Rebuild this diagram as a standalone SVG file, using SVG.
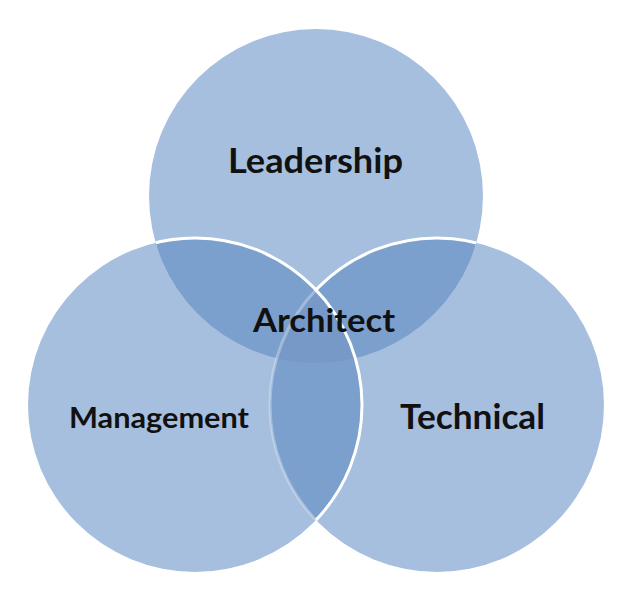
<svg xmlns="http://www.w3.org/2000/svg" width="632" height="599" viewBox="0 0 632 599">
<style>
.c{fill:#a7bfdf}
.d{fill:#7ca0cd}
.t{fill:#7699c8}
.lbl{font-family:Lato,"Open Sans","Liberation Sans",sans-serif;font-weight:700;fill:#111;text-anchor:middle}
.edge{fill:none;stroke:#fff;stroke-width:3}
</style>
<defs>
<clipPath id="cT"><circle cx="316" cy="196" r="167"/></clipPath>
<clipPath id="cR"><circle cx="437" cy="405" r="167"/></clipPath>
<clipPath id="cTR" clip-path="url(#cR)"><circle cx="316" cy="196" r="167"/></clipPath>
<clipPath id="cTorR"><circle cx="316" cy="196" r="167"/><circle cx="437" cy="405" r="167"/></clipPath>
<mask id="mR" maskUnits="userSpaceOnUse" x="0" y="0" width="632" height="599">
<circle cx="316" cy="196" r="167" fill="#fff"/>
<circle cx="195" cy="405" r="167" fill="#4d4d4d"/>
</mask>
</defs>
<rect width="632" height="599" fill="#fff"/>
<g id="node-leadership">
<circle class="c" cx="316" cy="196" r="167"/>
</g>
<g id="node-management">
<circle class="c" cx="195" cy="405" r="167"/>
</g>
<g id="node-technical">
<circle class="c" cx="437" cy="405" r="167"/>
</g>
<g id="overlaps">
<circle class="d" cx="195" cy="405" r="167" clip-path="url(#cT)"/>
<circle class="d" cx="437" cy="405" r="167" clip-path="url(#cT)"/>
<circle class="d" cx="195" cy="405" r="167" clip-path="url(#cR)"/>
<circle class="t" cx="195" cy="405" r="167" clip-path="url(#cTR)"/>
</g>
<g id="outlines">
<circle class="edge" cx="437" cy="405" r="167" mask="url(#mR)"/>
<circle class="edge" cx="195" cy="405" r="167" clip-path="url(#cTorR)"/>
</g>
<g id="labels">
<text id="label-leadership" class="lbl" x="315.5" y="173" font-size="34" textLength="175" lengthAdjust="spacingAndGlyphs">Leadership</text>
<text id="label-architect" class="lbl" x="324" y="332" font-size="33" textLength="142" lengthAdjust="spacingAndGlyphs">Architect</text>
<text id="label-management" class="lbl" x="159" y="428" font-size="29" textLength="180" lengthAdjust="spacingAndGlyphs">Management</text>
<text id="label-technical" class="lbl" x="472.5" y="429" font-size="35" textLength="145" lengthAdjust="spacingAndGlyphs">Technical</text>
</g>
</svg>
